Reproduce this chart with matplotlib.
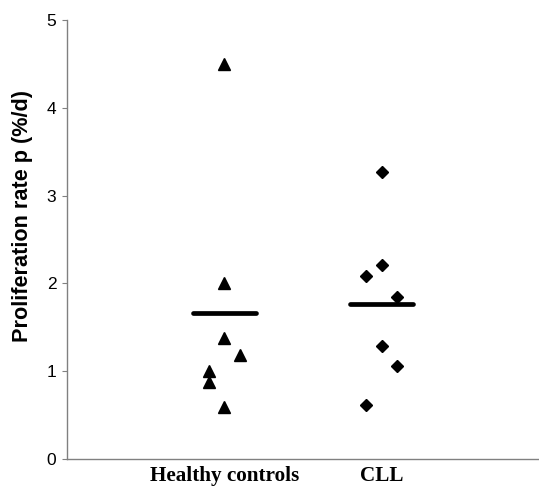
import matplotlib
matplotlib.use("Agg")
import matplotlib.pyplot as plt

categories = ["Healthy controls", "CLL"]
healthy_values = [4.5, 2.0, 1.38, 1.19, 1.0, 0.88, 0.59]
healthy_offsets = [0.0, 0.0, 0.0, 0.1, -0.1, -0.1, 0.0]
cll_values = [3.27, 2.21, 2.08, 1.85, 1.29, 1.06, 0.61]
cll_offsets = [0.0, 0.0, -0.1, 0.1, 0.0, 0.1, -0.1]
means = [1.66, 1.77]
y_ticks = [0, 1, 2, 3, 4, 5]

fig = plt.figure(figsize=(5.39, 4.87), dpi=100)
ax = fig.add_axes([67/539, (487-459)/487, (539-67)/539, (459-20)/487])

positions = [1, 2]
ax.plot([positions[0] + o for o in healthy_offsets], healthy_values, linestyle="none",
        marker="^", markersize=9.0, color="black", clip_on=False)
ax.plot([positions[1] + o for o in cll_offsets], cll_values, linestyle="none",
        marker="D", markersize=6.4, color="black", clip_on=False)
for p, m in zip(positions, means):
    ax.plot([p - 0.2, p + 0.2], [m, m], color="black", linewidth=3.4,
            solid_capstyle="round")

ax.set_xlim(0, 3)
ax.set_ylim(0, 5)
ax.set_yticks(y_ticks)
ax.set_yticklabels([str(t) for t in y_ticks], fontsize=12.5, family="Liberation Sans")
ax.set_xticks(positions)
ax.set_xticklabels(categories, fontsize=15.2, fontweight="bold", family="Liberation Serif")
ax.tick_params(axis="x", length=0, pad=5)
ax.tick_params(axis="y", length=3.6, width=0.8, color="#808080", pad=4)
for s in ["top", "right"]:
    ax.spines[s].set_visible(False)
for s in ["left", "bottom"]:
    ax.spines[s].set_color("#808080")
    ax.spines[s].set_linewidth(1.0)
ax.set_ylabel("Proliferation rate p (%/d)", fontsize=15.6, fontweight="bold",
              family="Liberation Sans")
ax.yaxis.set_label_coords(-0.072, 0.553)

fig.savefig("out.png", dpi=100)
